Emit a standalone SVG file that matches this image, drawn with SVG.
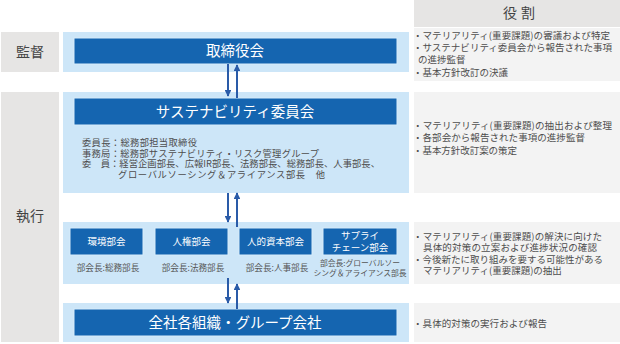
<svg xmlns="http://www.w3.org/2000/svg" width="620" height="344" viewBox="0 0 620 344">
<defs>
<style>
text{font-family:"Noto Sans CJK JP","Noto Sans",sans-serif;}
.side{fill:#e6e5e4;}
.band{fill:#cde6f8;}
.dark{fill:#1565b0;stroke:#d8ecfa;stroke-width:1;}
.role{fill:#f3f3f3;}
.head{fill:#e6e5e4;}
.big{fill:#fff;font-size:14.5px;text-anchor:middle;}
.lbl{fill:#444;font-size:14px;text-anchor:middle;}
.sub{fill:#fff;font-size:9.5px;text-anchor:middle;}
.small{fill:#555;font-size:8.6px;text-anchor:middle;}
.tiny{fill:#555;font-size:7.8px;text-anchor:middle;}
.body{fill:#4d4d4d;font-size:9.5px;}
.cm{fill:#4d4d4d;font-size:9.3px;}
.arr{stroke:#2a5ba8;stroke-width:2;fill:none;}
</style>
<marker id="ah" viewBox="0 0 10 10" refX="9" refY="5" markerWidth="3.4" markerHeight="3.4" orient="auto" markerUnits="strokeWidth">
<path d="M0,0 L10,5 L0,10 z" fill="#2a5ba8"/>
</marker>
</defs>
<rect width="620" height="344" fill="#fff"/>

<g id="side-kantoku">
<rect class="side" x="1" y="32" width="58" height="40"/>
<text class="lbl" x="30" y="57">監督</text>
</g>
<g id="side-shikko">
<rect class="side" x="1" y="92" width="58" height="250"/>
<text class="lbl" x="30" y="221">執行</text>
</g>

<g id="role-header">
<rect class="head" x="414" y="0" width="206" height="27"/>
<text class="lbl" x="521" y="18" letter-spacing="4">役割</text>
</g>

<g id="board">
<rect class="band" x="63" y="32" width="346" height="40"/>
<rect class="dark" x="74" y="38" width="323" height="26"/>
<text class="big" x="235" y="56">取締役会</text>
</g>
<g id="role-board">
<rect class="role" x="414" y="28" width="206" height="53"/>
<text class="body" x="413" y="38.5" textLength="197" lengthAdjust="spacing">・マテリアリティ(重要課題)の審議および特定</text>
<text class="body" x="413" y="51" textLength="199" lengthAdjust="spacing">・サステナビリティ委員会から報告された事項</text>
<text class="body" x="418" y="63">の進捗監督</text>
<text class="body" x="413" y="75.5" textLength="95" lengthAdjust="spacing">・基本方針改訂の決議</text>
</g>

<g id="committee">
<rect class="band" x="63" y="92" width="346" height="101"/>
<rect class="dark" x="74" y="98" width="323" height="27"/>
<text class="big" x="235" y="117">サステナビリティ委員会</text>
<text class="cm" x="82" y="146" textLength="115" lengthAdjust="spacing">委員長：総務部担当取締役</text>
<text class="cm" x="82" y="156.5" textLength="237" lengthAdjust="spacing">事務局：総務部サステナビリティ・リスク管理グループ</text>
<text class="cm" x="82" y="167" textLength="298" lengthAdjust="spacing">委　員：経営企画部長、広報IR部長、法務部長、総務部長、人事部長、</text>
<text class="cm" x="118" y="177.5" textLength="207" lengthAdjust="spacing">グローバルソーシング＆アライアンス部長　他</text>
</g>
<g id="role-committee">
<rect class="role" x="414" y="92" width="206" height="101"/>
<text class="body" x="413" y="128.5" textLength="199" lengthAdjust="spacing">・マテリアリティ(重要課題)の抽出および整理</text>
<text class="body" x="413" y="141" textLength="172" lengthAdjust="spacing">・各部会から報告された事項の進捗監督</text>
<text class="body" x="413" y="153.5" textLength="104" lengthAdjust="spacing">・基本方針改訂案の策定</text>
</g>

<g id="subcommittees">
<rect class="band" x="63" y="222" width="346" height="62"/>
</g>
<g id="env">
<rect class="dark" x="70" y="228" width="73" height="27"/>
<text class="sub" x="106.5" y="245">環境部会</text>
<text class="small" x="108" y="271">部会長:総務部長</text>
</g>
<g id="rights">
<rect class="dark" x="155" y="228" width="73" height="27"/>
<text class="sub" x="191.5" y="245">人権部会</text>
<text class="small" x="193" y="271">部会長:法務部長</text>
</g>
<g id="human-capital">
<rect class="dark" x="239" y="228" width="73" height="27"/>
<text class="sub" x="275.5" y="245">人的資本部会</text>
<text class="small" x="277" y="271">部会長:人事部長</text>
</g>
<g id="supply">
<rect class="dark" x="323" y="228" width="74" height="27"/>
<text class="sub" x="360" y="238.5">サプライ</text>
<text class="sub" x="360" y="250.5">チェーン部会</text>
<text class="tiny" x="360" y="266">部会長:グローバルソー</text>
<text class="tiny" x="360" y="276">シング＆アライアンス部長</text>
</g>
<g id="role-sub">
<rect class="role" x="414" y="222" width="206" height="62"/>
<text class="body" x="413" y="239.5" textLength="189" lengthAdjust="spacing">・マテリアリティ(重要課題)の解決に向けた</text>
<text class="body" x="423" y="251" textLength="174" lengthAdjust="spacing">具体的対策の立案および進捗状況の確認</text>
<text class="body" x="413" y="262.5" textLength="190" lengthAdjust="spacing">・今後新たに取り組みを要する可能性がある</text>
<text class="body" x="423" y="274">マテリアリティ(重要課題)の抽出</text>
</g>

<g id="group">
<rect class="band" x="63" y="303" width="346" height="39"/>
<rect class="dark" x="74" y="309" width="323" height="27"/>
<text class="big" x="235" y="328">全社各組織・グループ会社</text>
</g>
<g id="role-group">
<rect class="role" x="414" y="303" width="206" height="39"/>
<text class="body" x="413" y="326.5" textLength="134" lengthAdjust="spacing">・具体的対策の実行および報告</text>
</g>

<g id="connectors">
<line class="arr" x1="228" y1="64" x2="228" y2="96" marker-end="url(#ah)"/>
<line class="arr" x1="237" y1="98" x2="237" y2="65" marker-end="url(#ah)"/>
<line class="arr" x1="228" y1="193" x2="228" y2="222" marker-end="url(#ah)"/>
<line class="arr" x1="237" y1="227" x2="237" y2="193" marker-end="url(#ah)"/>
<line class="arr" x1="228" y1="278" x2="228" y2="303" marker-end="url(#ah)"/>
<line class="arr" x1="237" y1="309" x2="237" y2="284" marker-end="url(#ah)"/>
</g>
</svg>
